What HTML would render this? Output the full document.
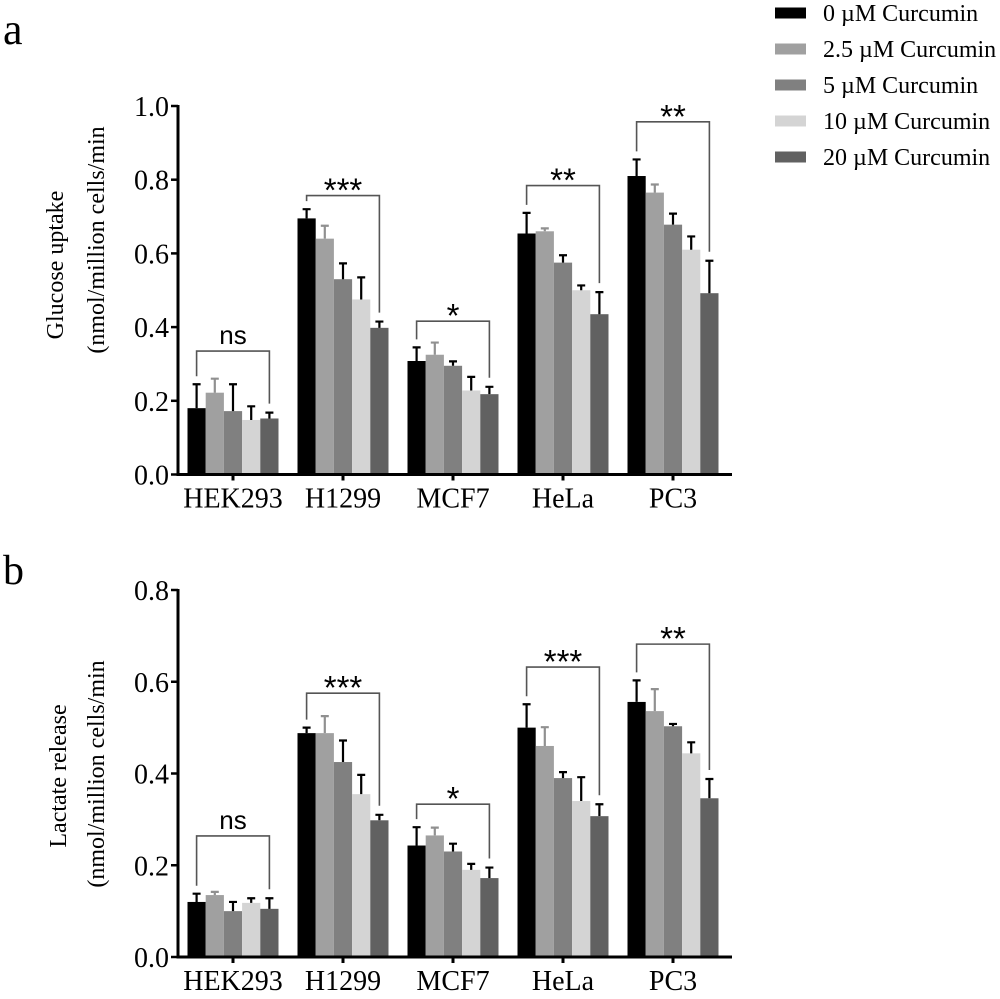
<!DOCTYPE html>
<html><head><meta charset="utf-8"><style>
html,body{margin:0;padding:0;background:#fff;}
svg{display:block;}
</style></head><body>
<svg id="fig" width="1000" height="999" viewBox="0 0 1000 999" xmlns="http://www.w3.org/2000/svg">
<text x="3" y="44" font-family="Liberation Serif, serif" font-size="44">a</text>
<text x="3" y="584" font-family="Liberation Serif, serif" font-size="42">b</text>
<g id="legend"></g>
<g id="chartA"></g>
<g id="chartB"></g>
</svg>
<script>
const categories = ["HEK293","H1299","MCF7","HeLa","PC3"];
const seriesNames = ["0 \u00B5M Curcumin","2.5 \u00B5M Curcumin","5 \u00B5M Curcumin","10 \u00B5M Curcumin","20 \u00B5M Curcumin"];
const seriesColors = ["#000000","#a0a0a0","#808080","#d4d4d4","#616161"];

const glucoseMeans = [
  [0.180,0.222,0.172,0.148,0.152],
  [0.695,0.640,0.530,0.475,0.398],
  [0.308,0.325,0.295,0.228,0.218],
  [0.654,0.660,0.575,0.500,0.435],
  [0.810,0.765,0.678,0.610,0.492]
];
const glucoseErrTops = [
  [0.245,0.260,0.245,0.185,0.168],
  [0.720,0.675,0.573,0.535,0.415],
  [0.345,0.358,0.307,0.265,0.238],
  [0.710,0.668,0.595,0.513,0.495],
  [0.855,0.787,0.708,0.646,0.580]
];
const glucoseSig = ["ns","***","*","**","**"];
const glucoseBracketY = [0.335,0.757,0.416,0.784,0.957];
const glucoseTicks = ["0.0","0.2","0.4","0.6","0.8","1.0"];

const lactateMeans = [
  [0.120,0.135,0.100,0.118,0.105],
  [0.488,0.488,0.425,0.355,0.298],
  [0.243,0.265,0.230,0.190,0.172],
  [0.500,0.460,0.390,0.340,0.307],
  [0.556,0.536,0.503,0.444,0.346]
];
const lactateErrTops = [
  [0.138,0.142,0.120,0.128,0.128],
  [0.500,0.525,0.472,0.397,0.310],
  [0.283,0.282,0.247,0.203,0.195],
  [0.551,0.501,0.403,0.392,0.333],
  [0.603,0.584,0.508,0.468,0.388]
];
const lactateSig = ["ns","***","*","***","**"];
const lactateBracketY = [0.264,0.575,0.333,0.632,0.682];
const lactateTicks = ["0.0","0.2","0.4","0.6","0.8"];

const NS = "http://www.w3.org/2000/svg";
function mk(tag, attrs, parent){
  const e = document.createElementNS(NS, tag);
  for (const k in attrs) e.setAttribute(k, attrs[k]);
  parent.appendChild(e);
  return e;
}

function drawChart(g, cfg){
  const y0 = cfg.yZero, yTop = cfg.yTopPx, yMax = cfg.yMax;
  const ys = v => y0 - (v / yMax) * (y0 - yTop);
  const axisX = 178;
  const groupX = i => 233 + i * 110;
  const bw = 18.2;
  const barX = (i, s) => groupX(i) - 2.5 * bw + s * bw;

  cfg.means.forEach((row, i) => {
    row.forEach((v, s) => {
      const r = mk('rect', {x: barX(i,s), y: ys(v), width: bw, height: y0 - ys(v), fill: seriesColors[s]}, g);
      
      
      const cx = barX(i,s) + bw/2;
      const et = ys(cfg.errs[i][s]);
      const ec = s === 1 ? '#909090' : '#000';
      const l = mk('path', {d: `M${cx} ${ys(v)}V${et}M${cx-4} ${et}H${cx+4}`, stroke: ec, 'stroke-width': 2.2, fill: 'none'}, g);
      
      
    });
    const by = ys(cfg.bracket[i]);
    const lx = barX(i,0) + bw/2, rx = barX(i,4) + bw/2;
    const ly = ys(cfg.errs[i][0]) - 8, ry = ys(cfg.errs[i][4]) - 9;
    const b = mk('path', {d: `M${lx} ${ly}V${by}H${rx}V${ry}`, stroke: '#555', 'stroke-width': 1.6, fill: 'none'}, g);
    
    
    const isNs = cfg.sig[i] === 'ns';
    const t = mk('text', {x: (lx+rx)/2, y: isNs ? by - 7 : by + 6, 'text-anchor': 'middle', 'font-family': 'Liberation Sans, sans-serif', 'font-size': isNs ? 26 : 33}, g);
    t.textContent = cfg.sig[i];
    
    
  });

  const ya = mk('line', {x1: axisX, y1: yTop - 1, x2: axisX, y2: y0 + 1.5, stroke: '#000', 'stroke-width': 3}, g);
  
  
  cfg.ticks.forEach((lab, k) => {
    const v = parseFloat(lab);
    const yy = ys(v);
    const tk = mk('line', {x1: axisX - 7, y1: yy, x2: axisX, y2: yy, stroke: '#000', 'stroke-width': 2.5}, g);
    
    
    const tt = mk('text', {x: 169, y: yy + 10, 'text-anchor': 'end', 'font-family': 'Liberation Serif, serif', 'font-size': 28}, g);
    tt.textContent = lab;
    
    
  });
  const xa = mk('line', {x1: axisX - 1.5, y1: y0, x2: 732, y2: y0, stroke: '#000', 'stroke-width': 3}, g);
  
  
  categories.forEach((c, i) => {
    const tk = mk('line', {x1: groupX(i), y1: y0, x2: groupX(i), y2: y0 + 6, stroke: '#000', 'stroke-width': 3}, g);
    
    
    const tt = mk('text', {x: groupX(i), y: y0 + 33, 'text-anchor': 'middle', 'font-family': 'Liberation Serif, serif', 'font-size': 28}, g);
    tt.textContent = c;
    
    
  });
  cfg.title.forEach((line, k) => {
    const p = cfg.titlePos[k];
    const tt = mk('text', {x: 0, y: 0, transform: `translate(${p[0]},${p[1]}) rotate(-90)`, 'text-anchor': 'middle', 'font-family': 'Liberation Serif, serif', 'font-size': cfg.titleSize[k]}, g);
    tt.textContent = line;
    
    
  });
}

drawChart(document.getElementById('chartA'), {
  yZero: 474.5, yTopPx: 106, yMax: 1.0,
  means: glucoseMeans, errs: glucoseErrTops, sig: glucoseSig, bracket: glucoseBracketY, ticks: glucoseTicks,
  title: ["Glucose uptake", "(nmol/million cells/min"], titlePos: [[63,265],[104,240]], titleSize: [24,24]
});
drawChart(document.getElementById('chartB'), {
  yZero: 957, yTopPx: 590, yMax: 0.8,
  means: lactateMeans, errs: lactateErrTops, sig: lactateSig, bracket: lactateBracketY, ticks: lactateTicks,
  title: ["Lactate release", "(nmol/million cells/min"], titlePos: [[66,776],[104,774]], titleSize: [24,24]
});

const lg = document.getElementById('legend');
seriesNames.forEach((n, s) => {
  const cy = 13 + s * 36;
  const r = mk('rect', {x: 775, y: cy - 5.5, width: 31, height: 11, fill: seriesColors[s]}, lg);
  
  
  const t = mk('text', {x: 823, y: cy + 8, 'font-family': 'Liberation Serif, serif', 'font-size': 24}, lg);
  t.textContent = n;
  
  
});
</script>
</body></html>
